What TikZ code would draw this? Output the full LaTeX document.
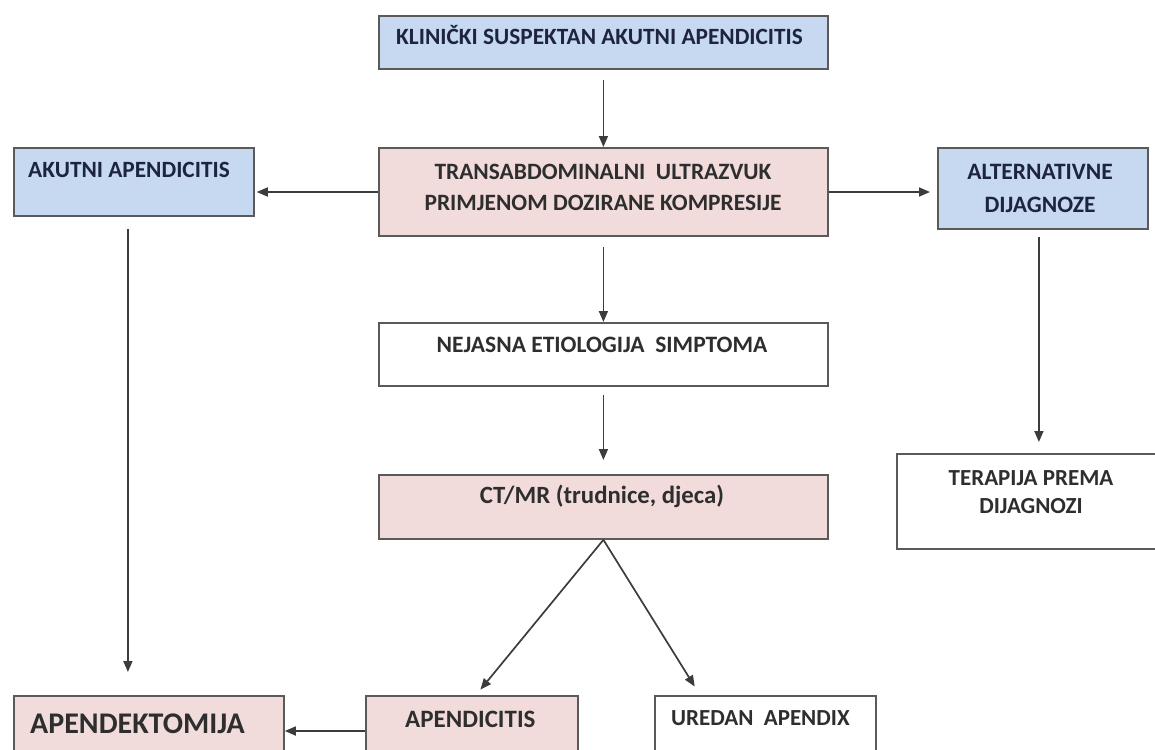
\documentclass[tikz,border=0pt]{standalone}
\usepackage{fontspec}
\setmainfont{Carlito}
\usetikzlibrary{arrows.meta,calc}
\definecolor{bluefill}{HTML}{C6D9F1}
\definecolor{pinkfill}{HTML}{F2DCDB}
\definecolor{edge}{HTML}{5A5A5A}
\definecolor{navytext}{HTML}{1E2440}
\definecolor{graytext}{HTML}{2E2E2E}
\definecolor{arrowcol}{HTML}{3C3C3C}
\tikzset{
  box/.style={draw=edge, line width=1.8pt, rectangle, inner sep=0pt, anchor=north west},
  bluebox/.style={box, fill=bluefill},
  pinkbox/.style={box, fill=pinkfill},
  whitebox/.style={box, fill=white},
  lbl/.style={inner sep=0pt, font=\bfseries\fontsize{#1}{#1}\selectfont, text=graytext},
  navy/.style={text=navytext},
  arr/.style={draw=arrowcol, line width=1.7pt, -{Triangle[length=11pt,width=9pt]}}
}
\begin{document}
\begin{tikzpicture}[x=1pt,y=-1pt]
\useasboundingbox (0,0) rectangle (1155,749);
\clip (0,0) rectangle (1155,749);
% boxes
\node[bluebox, minimum width=449pt, minimum height=53pt] (top) at (378,15) {};
\node[bluebox, minimum width=240pt, minimum height=68pt] (akut) at (13,147) {};
\node[pinkbox, minimum width=449pt, minimum height=88pt] (trans) at (378,147) {};
\node[bluebox, minimum width=210pt, minimum height=81pt] (alt) at (937,147) {};
\node[whitebox, minimum width=449pt, minimum height=63pt] (nej) at (378,322) {};
\node[pinkbox, minimum width=449pt, minimum height=64pt] (ct) at (378,474) {};
\node[whitebox, minimum width=272pt, minimum height=95pt] (ter) at (896,453) {};
\node[pinkbox, minimum width=270pt, minimum height=66pt] (apdk) at (13,695) {};
\node[pinkbox, minimum width=212pt, minimum height=66pt] (apc) at (365,695) {};
\node[whitebox, minimum width=221pt, minimum height=66pt] (ured) at (654,695) {};
% texts
\node[lbl=23.3, navy, anchor=base west] (ttop) at (396,45) {KLINIČKI SUSPEKTAN AKUTNI APENDICITIS};
\node[lbl=23.3, navy, anchor=base west] (takut) at (28,177) {AKUTNI APENDICITIS};
\node[lbl=23.4, anchor=base] (ttrans1) at (603,179) {TRANSABDOMINALNI\ \ ULTRAZVUK};
\node[lbl=23.4, anchor=base] (ttrans2) at (603,210) {PRIMJENOM DOZIRANE KOMPRESIJE};
\node[lbl=23.5, navy, anchor=base] (talt1) at (1040,179) {ALTERNATIVNE};
\node[lbl=23.5, navy, anchor=base] (talt2) at (1040,212) {DIJAGNOZE};
\node[lbl=23.5, anchor=base] (tnej) at (602,352) {NEJASNA ETIOLOGIJA\ \ SIMPTOMA};
\node[lbl=24.8, anchor=base] (tct) at (602,503) {CT/MR (trudnice, djeca)};
\node[lbl=23, anchor=base] (tter1) at (1031,485) {TERAPIJA PREMA};
\node[lbl=23, anchor=base] (tter2) at (1031,513) {DIJAGNOZI};
\node[lbl=30, anchor=base west] (tapdk) at (30,733) {APENDEKTOMIJA};
\node[lbl=25, anchor=base west] (tapc) at (405,727) {APENDICITIS};
\node[lbl=23, anchor=base west] (tured) at (671,725) {UREDAN\ \ APENDIX};
% arrows
\draw[arr, shorten <=10pt] (top.south) -- (trans.north);
\draw[arr] (trans.west |- 0,192) -- ([xshift=2pt]akut.east |- 0,192);
\draw[arr] (trans.east |- 0,192) -- ([xshift=-7pt]alt.west |- 0,192);
\draw[arr, shorten <=10pt] (trans.south) -- (nej.north);
\draw[arr, shorten <=8pt, shorten >=14pt] (nej.south) -- (ct.north);
\draw[arr, shorten <=12pt, shorten >=23pt] ([xshift=-6pt]akut.south) -- ([xshift=-6pt]akut.south |- apdk.north);
\draw[arr, shorten <=7pt, shorten >=11pt] ([xshift=-4pt]alt.south) -- ([xshift=-4pt]alt.south |- ter.north);
\draw[arr] (apc.west |- 0,731) -- (apdk.east |- 0,731);
\draw[arr, shorten >=7pt] (ct.south) -- ($(apc.north west)+(111,0)$);
\draw[arr, shorten >=10pt] (ct.south) -- ($(ured.north west)+(46,0)$);
\end{tikzpicture}
\end{document}
